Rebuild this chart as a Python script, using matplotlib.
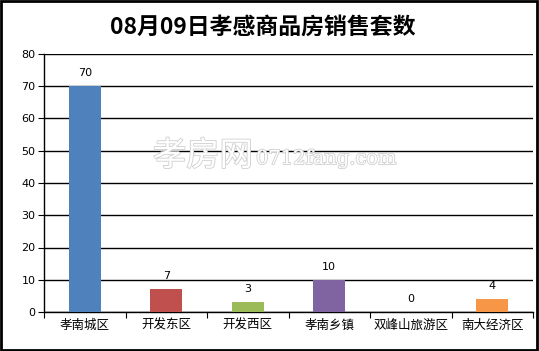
import matplotlib
matplotlib.use("Agg")
import matplotlib.pyplot as plt
import matplotlib.patheffects as pe
from matplotlib.patches import Rectangle

plt.rcParams['font.family'] = ['Noto Sans CJK SC', 'DejaVu Sans']

categories = ['孝南城区', '开发东区', '开发西区', '孝南乡镇', '双峰山旅游区', '南大经济区']
values = [70, 7, 3, 10, 0, 4]
colors = ['#4F81BD', '#C0504D', '#9BBB59', '#8064A2', '#4BACC6', '#F79646']
yticks = [0, 10, 20, 30, 40, 50, 60, 70, 80]
title = '08月09日孝感商品房销售套数'

fig = plt.figure(figsize=(5.39, 3.51), dpi=100)
W, H = 539, 351
ax = fig.add_axes([44 / W, 1 - 312 / H, (533 - 44) / W, (312 - 54) / H])

x = list(range(len(categories)))
ax.bar(x, values, width=0.39, color=colors, zorder=3)
for xi, v in zip(x, values):
    ax.text(xi, v + 2.5, str(v), ha='center', va='bottom', fontsize=8, family='DejaVu Sans')

ax.set_xlim(-0.5, len(categories) - 0.5)
ax.set_ylim(0, 80)
ax.set_yticks(yticks)
ax.set_yticklabels([str(t) for t in yticks], fontsize=8, family='DejaVu Sans')
ax.yaxis.grid(True, color='black', linewidth=1, zorder=0)
ax.set_xticks([i - 0.5 for i in range(len(categories) + 1)])
ax.set_xticklabels([])
ax.set_xticks(x, minor=True)
ax.set_xticklabels(categories, minor=True, fontsize=9)
ax.tick_params(axis='x', which='minor', length=0, pad=5)
ax.tick_params(axis='x', which='major', length=4, direction='out', color='black')
ax.tick_params(axis='y', length=4, direction='out', color='black', pad=2)
for s in ['top', 'right']:
    ax.spines[s].set_visible(False)
ax.spines['left'].set_linewidth(1)
ax.spines['bottom'].set_linewidth(1)

fig.text(0.487, 1 - 27 / H, title, ha='center', va='center', fontsize=16.5, fontweight='bold')

fig.text(253 / W, 1 - 156 / H, '孝房网', ha='right', va='center', fontsize=24, color='white',
         path_effects=[pe.withStroke(linewidth=1.2, foreground='#cfcfcf')], zorder=5)
fig.text(256 / W, 1 - 159 / H, '0712fang.com', ha='left', va='center', fontsize=14, color='white',
         family='DejaVu Serif',
         path_effects=[pe.withStroke(linewidth=1.2, foreground='#cfcfcf')], zorder=5)

fig.patches.append(Rectangle((0.002, 0.004), 0.994, 0.993, transform=fig.transFigure,
                             fill=False, edgecolor='black', linewidth=2))

fig.savefig('out.png', dpi=100)
